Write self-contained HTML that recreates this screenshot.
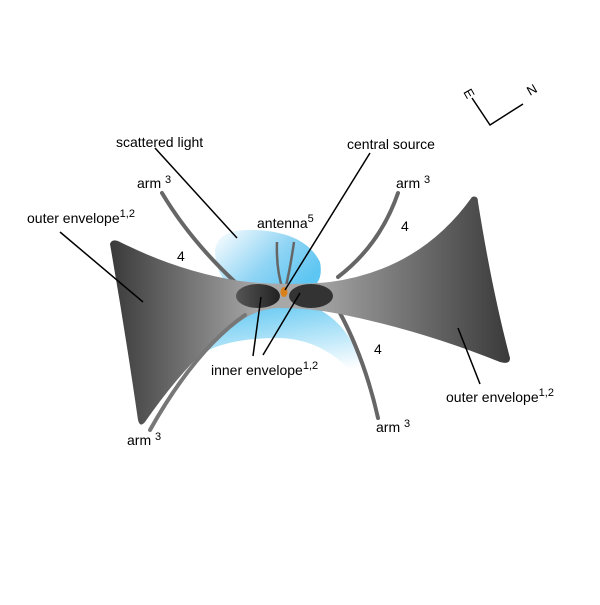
<!DOCTYPE html>
<html><head><meta charset="utf-8"><style>
body{margin:0;background:#fff}
text{font-family:"Liberation Sans",sans-serif;font-size:14px;fill:#000}
.s{font-size:11px}
</style></head><body>
<svg width="600" height="600" viewBox="0 0 600 600" xmlns="http://www.w3.org/2000/svg">
<defs>
<linearGradient id="gl" x1="110" y1="0" x2="260" y2="0" gradientUnits="userSpaceOnUse"><stop offset="0" stop-color="#3a3a3a"/><stop offset="1" stop-color="#a8a8a8"/></linearGradient>
<linearGradient id="gr" x1="310" y1="0" x2="510" y2="0" gradientUnits="userSpaceOnUse"><stop offset="0" stop-color="#a8a8a8"/><stop offset="1" stop-color="#3a3a3a"/></linearGradient>
<linearGradient id="bt" x1="0" y1="0" x2="1" y2="0.6"><stop offset="0" stop-color="#ffffff"/><stop offset="0.6" stop-color="#8fd4f4"/><stop offset="1" stop-color="#5ec6f2"/></linearGradient>
<linearGradient id="bb" x1="0" y1="0" x2="0.3" y2="1"><stop offset="0" stop-color="#4cc0f0"/><stop offset="1" stop-color="#ffffff"/></linearGradient>
<linearGradient id="dl" x1="0" y1="0" x2="1" y2="0"><stop offset="0" stop-color="#555"/><stop offset="1" stop-color="#222"/></linearGradient>
</defs>
<path d="M215,250 Q218,228 255,230 Q305,232 320,262 Q325,288 300,292 L240,292 Q215,280 215,250Z" fill="url(#bt)"/>
<path d="M205,352 Q235,290 285,300 Q340,305 360,360 Q365,380 362,385 Q330,340 280,338 Q230,338 205,352Z" fill="url(#bb)"/>
<path d="M162,193 Q190,240 235,282" stroke="#666" stroke-width="4" fill="none" stroke-linecap="round"/>
<path d="M398,193 Q380,245 338,277" stroke="#666" stroke-width="4" fill="none" stroke-linecap="round"/>
<path d="M340,313 Q365,360 378,418" stroke="#666" stroke-width="4" fill="none" stroke-linecap="round"/>
<path d="M277,242 Q276,270 283,290 M294,242 Q290,270 285,290" stroke="#666" stroke-width="2.5" fill="none"/>
<path d="M110,244 Q112,238 120,242 Q180,272 240,281 Q265,284 290,284 L290,308 Q265,306 245,318 Q195,350 145,422 Q140,428 138,420 Q125,330 110,244Z" fill="url(#gl)"/>
<path d="M472,197 Q478,195 478,202 Q492,290 510,358 Q510,365 500,362 Q420,330 340,314 Q310,308 280,308 L280,284 Q310,284 330,282 Q420,270 472,197Z" fill="url(#gr)"/>
<path d="M245,315 Q195,350 150,430" stroke="#777" stroke-width="4" fill="none" stroke-linecap="round"/>
<ellipse cx="258" cy="296" rx="22" ry="12" fill="url(#dl)"/>
<ellipse cx="311" cy="296" rx="22" ry="12" fill="#333"/>
<ellipse cx="284" cy="292" rx="3.5" ry="5" fill="#d8801c"/>
<g stroke="#000" stroke-width="1.5" fill="none">
<path d="M155,148 L237,238"/>
<path d="M370,153 L285,290"/>
<path d="M60,232 L143,302"/>
<path d="M261,297 L253,356"/>
<path d="M300,293 L263,355"/>
<path d="M458,328 L480,384"/>
<path d="M472,98 L490,125 L523,104"/>
</g>
<text x="116" y="147">scattered light</text>
<text x="347" y="149">central source</text>
<text x="137" y="188">arm <tspan class="s" dy="-5">3</tspan></text>
<text x="396" y="188">arm <tspan class="s" dy="-5">3</tspan></text>
<text x="27" y="223">outer envelope<tspan class="s" dy="-6">1,2</tspan></text>
<text x="257" y="228">antenna<tspan class="s" dy="-6">5</tspan></text>
<text x="177" y="261">4</text>
<text x="401" y="231">4</text>
<text x="374" y="354">4</text>
<text x="211" y="375">inner envelope<tspan class="s" dy="-6">1,2</tspan></text>
<text x="446" y="402">outer envelope<tspan class="s" dy="-6">1,2</tspan></text>
<text x="127" y="445">arm <tspan class="s" dy="-5">3</tspan></text>
<text x="376" y="432">arm <tspan class="s" dy="-5">3</tspan></text>
<text x="0" y="0" transform="translate(463,92) rotate(60)" style="font-size:13px">E</text>
<text x="0" y="0" transform="translate(530,96) rotate(-30)" style="font-size:13px">N</text>
</svg>
</body></html>
